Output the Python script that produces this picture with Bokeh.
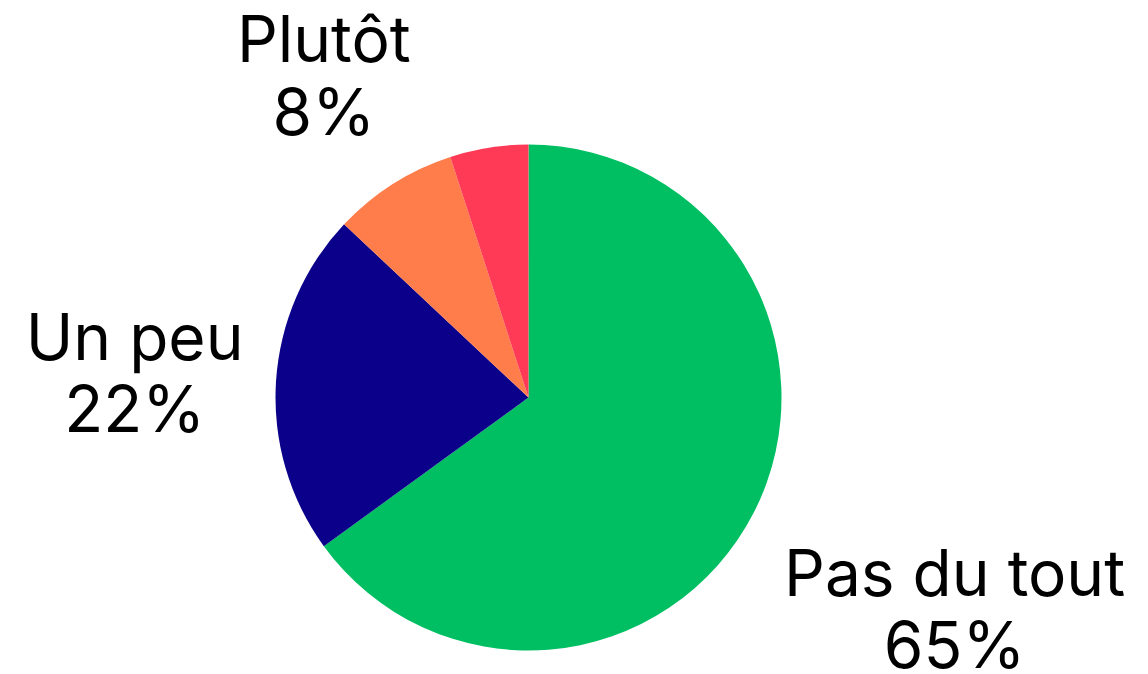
import math
from bokeh.plotting import figure
from bokeh.models import Range1d, ColumnDataSource
from bokeh.core.properties import value
from bokeh.embed import file_html
from bokeh.resources import INLINE

# Data
categories = ["Pas du tout", "Un peu", "Plutôt", "Tout à fait"]
shares = [65, 22, 8, 5]
show_label = [True, True, True, False]
colors = ["#00BF63", "#0B0089", "#FF7D4A", "#FF3A57"]

# Layout
W, H = 1148, 674
cx, cy, R = 528, 674 - 397, 253
label_dist = [1.89, 1.56, 1.51, 1.4]
label_nudge_y = [6, 0, 0, 0]

total = float(sum(shares))
starts, ends, lx, ly, ltxt = [], [], [], [], []
acc = 0.0
for cat, v, show, d, ny in zip(categories, shares, show_label, label_dist, label_nudge_y):
    a0 = math.pi / 2 - 2 * math.pi * acc / total
    acc += v
    a1 = math.pi / 2 - 2 * math.pi * acc / total
    starts.append(a0)
    ends.append(a1)
    mid = (a0 + a1) / 2
    if show:
        lx.append(cx + d * R * math.cos(mid))
        ly.append(cy + d * R * math.sin(mid) + ny)
        ltxt.append(f"{cat}\n{v}%")

src = ColumnDataSource(dict(start=starts, end=ends, color=colors))

p = figure(width=W, height=H, output_backend="svg", toolbar_location=None,
           x_range=Range1d(0, W), y_range=Range1d(0, H),
           min_border=0, min_border_left=0, min_border_right=0,
           min_border_top=0, min_border_bottom=0)
p.axis.visible = False
p.grid.visible = False
p.outline_line_color = None
p.background_fill_color = "white"
p.border_fill_color = "white"

p.wedge(x=cx, y=cy, radius=R, start_angle="start", end_angle="end",
        direction="clock", fill_color="color", line_color=None, source=src)

p.text(x=lx, y=ly, text=ltxt, text_align="center", text_baseline="middle",
       text_font=value("Inter"), text_font_size="64px", text_color="#000000",
       text_line_height=0.94)

open("out.html", "w").write(file_html(p, INLINE))
